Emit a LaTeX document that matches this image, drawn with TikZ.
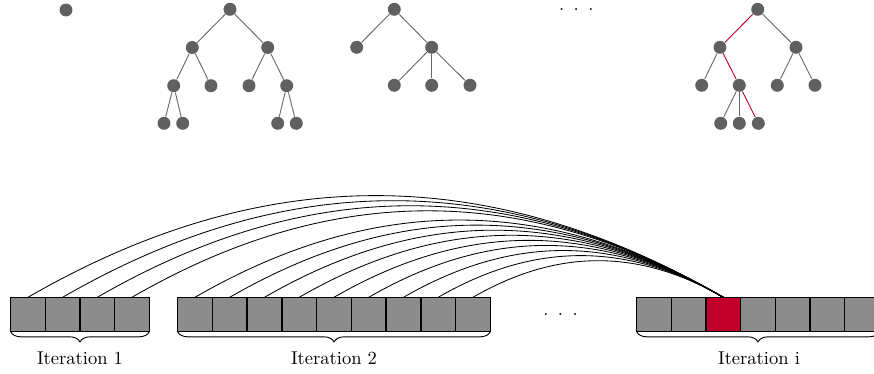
\documentclass[tikz,border=0pt]{standalone}
\usetikzlibrary{decorations.pathreplacing}
\definecolor{nodegray}{RGB}{96,96,96}
\definecolor{edgegray}{RGB}{105,105,105}
\definecolor{cellgray}{RGB}{140,140,140}
\definecolor{hot}{RGB}{192,0,42}
\begin{document}
\begin{tikzpicture}[x=0.54pt,y=0.54pt,
  vert/.style={circle,fill=nodegray,inner sep=0pt,minimum size=7pt},
  edge/.style={draw=edgegray,line width=0.5pt},
  hotedge/.style={draw=hot,line width=0.5pt},
  cell/.style={draw=black,fill=cellgray,line width=0.75pt,minimum width=18.7pt,
    minimum height=18.6pt,inner sep=0pt,outer sep=0pt},
  hotcell/.style={cell,fill=hot},
  link/.style={draw=black,line width=0.45pt},
  brc/.style={decorate,decoration={brace,mirror,amplitude=5.5pt},line width=0.5pt},
  dots/.style={inner sep=0pt},
]
\useasboundingbox (0,0) rectangle (874,-373);

% ---- trees ----
% single vertex
\node[vert] (s0) at (66,-10) {};

% full binary-ish tree
\node[vert] (p0) at (230,-9.3) {};
\node[vert] (p1) at (192.3,-47.5) {};
\node[vert] (p2) at (267.7,-47.5) {};
\node[vert] (p3) at (173.7,-85.7) {};
\node[vert] (p4) at (211,-85.7) {};
\node[vert] (p5) at (249,-85.7) {};
\node[vert] (p6) at (286.7,-85.7) {};
\node[vert] (p7) at (164,-123.3) {};
\node[vert] (p8) at (182.7,-123.3) {};
\node[vert] (p9) at (277.7,-123.3) {};
\node[vert] (p10) at (296.3,-123.3) {};
\foreach \u/\v in {p0/p1,p0/p2,p1/p3,p1/p4,p2/p5,p2/p6,p3/p7,p3/p8,p6/p9,p6/p10}
  \draw[edge] (\u) -- (\v);

% smaller tree
\node[vert] (q0) at (394.3,-9.3) {};
\node[vert] (q1) at (356.7,-47.3) {};
\node[vert] (q2) at (431.7,-47.3) {};
\node[vert] (q3) at (394.3,-85.3) {};
\node[vert] (q4) at (431.7,-85.3) {};
\node[vert] (q5) at (470,-85.3) {};
\foreach \u/\v in {q0/q1,q0/q2,q2/q3,q2/q4,q2/q5}
  \draw[edge] (\u) -- (\v);

\node[dots] (topdots) at (576.3,-9.3) {.\hspace{5.1pt}.\hspace{5.1pt}.};

% tree with highlighted path
\node[vert] (r0) at (757.7,-9.3) {};
\node[vert] (r1) at (720,-47.3) {};
\node[vert] (r2) at (796,-47.3) {};
\node[vert] (r3) at (701.7,-85.3) {};
\node[vert] (r4) at (739.3,-85.3) {};
\node[vert] (r5) at (777.3,-85.3) {};
\node[vert] (r6) at (815,-85.3) {};
\node[vert] (r7) at (720.7,-123.3) {};
\node[vert] (r8) at (739.3,-123.3) {};
\node[vert] (r9) at (758.3,-123.3) {};
\foreach \u/\v in {r0/r2,r1/r3,r2/r5,r2/r6,r4/r7,r4/r8}
  \draw[edge] (\u) -- (\v);
\foreach \u/\v in {r0/r1,r1/r4,r4/r9}
  \draw[hotedge] (\u) -- (\v);

% ---- arrays ----
\foreach \i in {1,...,4}
  \node[cell] (a\i) at ({28.0+34.65*(\i-1)},-314.5) {};
\foreach \i in {1,...,9}
  \node[cell] (b\i) at ({195.0+34.75*(\i-1)},-314.5) {};
\foreach \i in {1,2,4,5,6,7}
  \node[cell] (c\i) at ({654.0+34.65*(\i-1)},-314.5) {};
\node[hotcell] (c3) at (723.3,-314.5) {};

% links from earlier cells to the highlighted one
\foreach \s in {a1,a2,a3,a4,b1,b2,b3,b4,b5,b6,b7,b8,b9}
  \draw[link] (\s.north) to[bend left=30] (c3.north);

\node[dots] (middots) at (560.5,-314.3) {.\hspace{5.1pt}.\hspace{5.1pt}.};

% braces and labels
\draw[brc] (a1.south west) -- (a4.south east);
\draw[brc] (b1.south west) -- (b9.south east);
\draw[brc] (c1.south west) -- (c7.south east);
\node (l1) at (80,-358) {Iteration 1};
\node (l2) at (334,-358) {Iteration 2};
\node (l3) at (759,-358) {Iteration i};
\end{tikzpicture}
\end{document}
